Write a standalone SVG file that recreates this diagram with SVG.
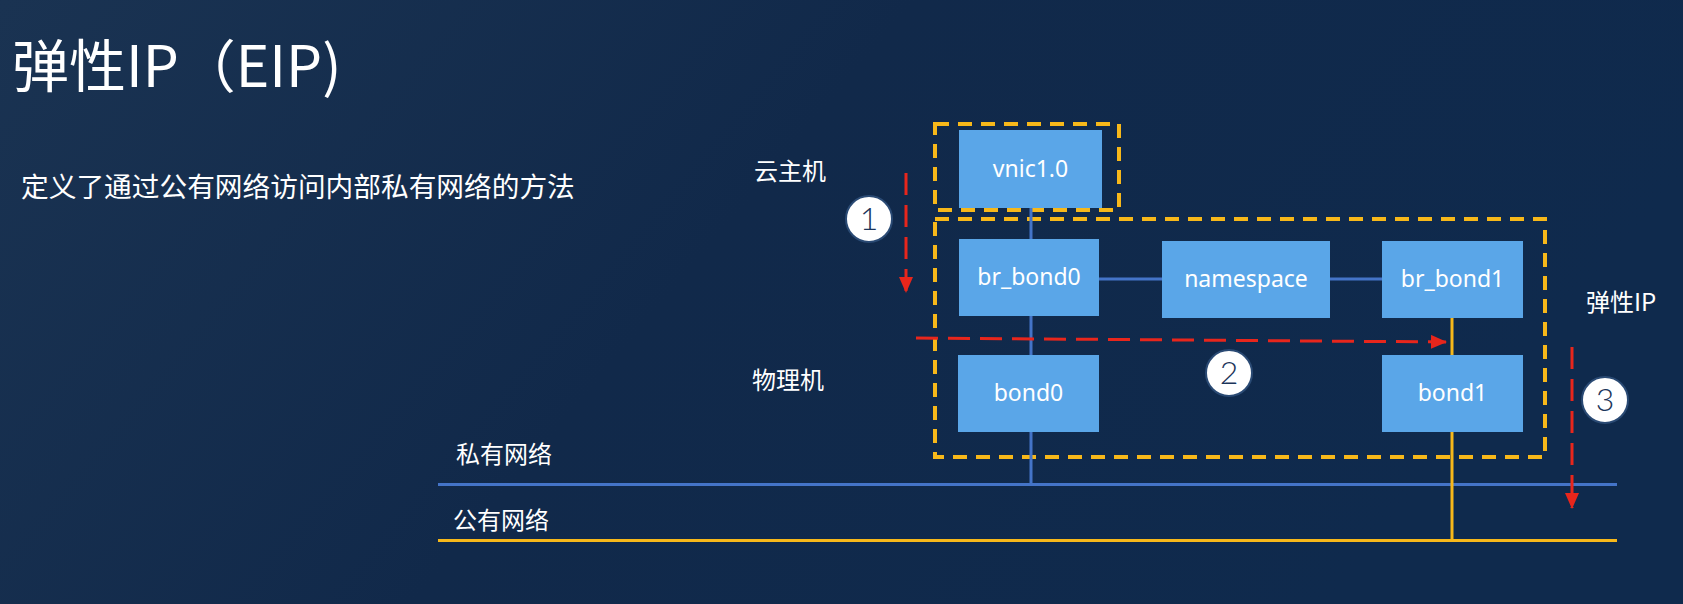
<svg xmlns="http://www.w3.org/2000/svg" width="1683" height="604" viewBox="0 0 1683 604">
<defs>
<linearGradient id="bg" x1="0" y1="0" x2="1" y2="0.3">
<stop offset="0" stop-color="#1a3352"/>
<stop offset="0.5" stop-color="#11294a"/>
<stop offset="1" stop-color="#0f2a4d"/>
</linearGradient>
<marker id="ah" markerUnits="userSpaceOnUse" markerWidth="16" markerHeight="14" refX="15" refY="7" orient="auto">
<path d="M0,0 L16,7 L0,14 z" fill="#e8261c"/>
</marker>
<style>
.box{fill:#5aa6e8}
.bt{fill:#ffffff;font-family:"Noto Sans","Noto Sans CJK SC",sans-serif;font-size:23px;text-anchor:middle}
.lbl{fill:#ffffff;font-family:"Noto Sans CJK SC",sans-serif;font-size:24px}
.dash{fill:none;stroke:#f7b81a;stroke-width:4;stroke-dasharray:14 9}
.blue{stroke:#4474c8;stroke-width:3;fill:none}
.yel{stroke:#f7b81a;stroke-width:3;fill:none}
.red{stroke:#e8261c;stroke-width:3;fill:none;stroke-dasharray:22 10;marker-end:url(#ah)}
.circ{fill:#ffffff;stroke:#2a4a74;stroke-width:2}
.num{fill:#1c355a;font-family:"Lato","Noto Sans",sans-serif;font-weight:300;font-size:32px;text-anchor:middle}
</style>
</defs>
<rect width="1683" height="604" fill="url(#bg)"/>
<g id="title">
<text x="12" y="87" fill="#ffffff" font-family="Noto Sans CJK SC, sans-serif" font-size="57">弹性IP（EIP)</text>
<text x="21" y="197" fill="#ffffff" font-family="Noto Sans CJK SC, sans-serif" font-size="27.7">定义了通过公有网络访问内部私有网络的方法</text>
</g>
<g id="labels">
<text class="lbl" x="754" y="180">云主机</text>
<text class="lbl" x="752" y="389">物理机</text>
<text class="lbl" x="1586" y="311">弹性IP</text>
<text class="lbl" x="456" y="463">私有网络</text>
<text class="lbl" x="453" y="529">公有网络</text>
</g>
<g id="groups">
<rect class="dash" x="935" y="124" width="184" height="86"/>
<rect class="dash" x="935" y="219" width="610" height="238"/>
</g>
<g id="connectors">
<line class="blue" x1="438" y1="484.5" x2="1617" y2="484.5" stroke-width="4"/>
<line class="yel" x1="438" y1="540.5" x2="1617" y2="540.5" stroke-width="4"/>
<line class="blue" x1="1031" y1="208" x2="1031" y2="239"/>
<line class="blue" x1="1031" y1="316" x2="1031" y2="355"/>
<line class="blue" x1="1031" y1="432" x2="1031" y2="485"/>
<line class="blue" x1="1099" y1="279" x2="1162" y2="279"/>
<line class="blue" x1="1330" y1="279" x2="1382" y2="279"/>
<line class="yel" x1="1452" y1="318" x2="1452" y2="355"/>
<line class="yel" x1="1452" y1="432" x2="1452" y2="541"/>
<line class="red" x1="906" y1="173" x2="906" y2="292"/>
<line class="red" x1="916" y1="338" x2="1446" y2="342"/>
<line class="red" x1="1572" y1="347" x2="1572" y2="508"/>
</g>
<g id="vnic"><rect class="box" x="959" y="130" width="143" height="78"/><text class="bt" x="1030.5" y="177">vnic1.0</text></g>
<g id="br_bond0"><rect class="box" x="959" y="239" width="140" height="77"/><text class="bt" x="1029" y="285">br_bond0</text></g>
<g id="namespace"><rect class="box" x="1162" y="241" width="168" height="77"/><text class="bt" x="1246" y="287">namespace</text></g>
<g id="br_bond1"><rect class="box" x="1382" y="241" width="141" height="77"/><text class="bt" x="1452.5" y="287">br_bond1</text></g>
<g id="bond0"><rect class="box" x="958" y="355" width="141" height="77"/><text class="bt" x="1028.5" y="401">bond0</text></g>
<g id="bond1"><rect class="box" x="1382" y="355" width="141" height="77"/><text class="bt" x="1452.5" y="401">bond1</text></g>
<g id="steps">
<circle class="circ" cx="869" cy="219" r="23"/><text class="num" x="869" y="230">1</text>
<circle class="circ" cx="1229" cy="373" r="23"/><text class="num" x="1229" y="384">2</text>
<circle class="circ" cx="1605" cy="400" r="23"/><text class="num" x="1605" y="411">3</text>
</g>
</svg>
